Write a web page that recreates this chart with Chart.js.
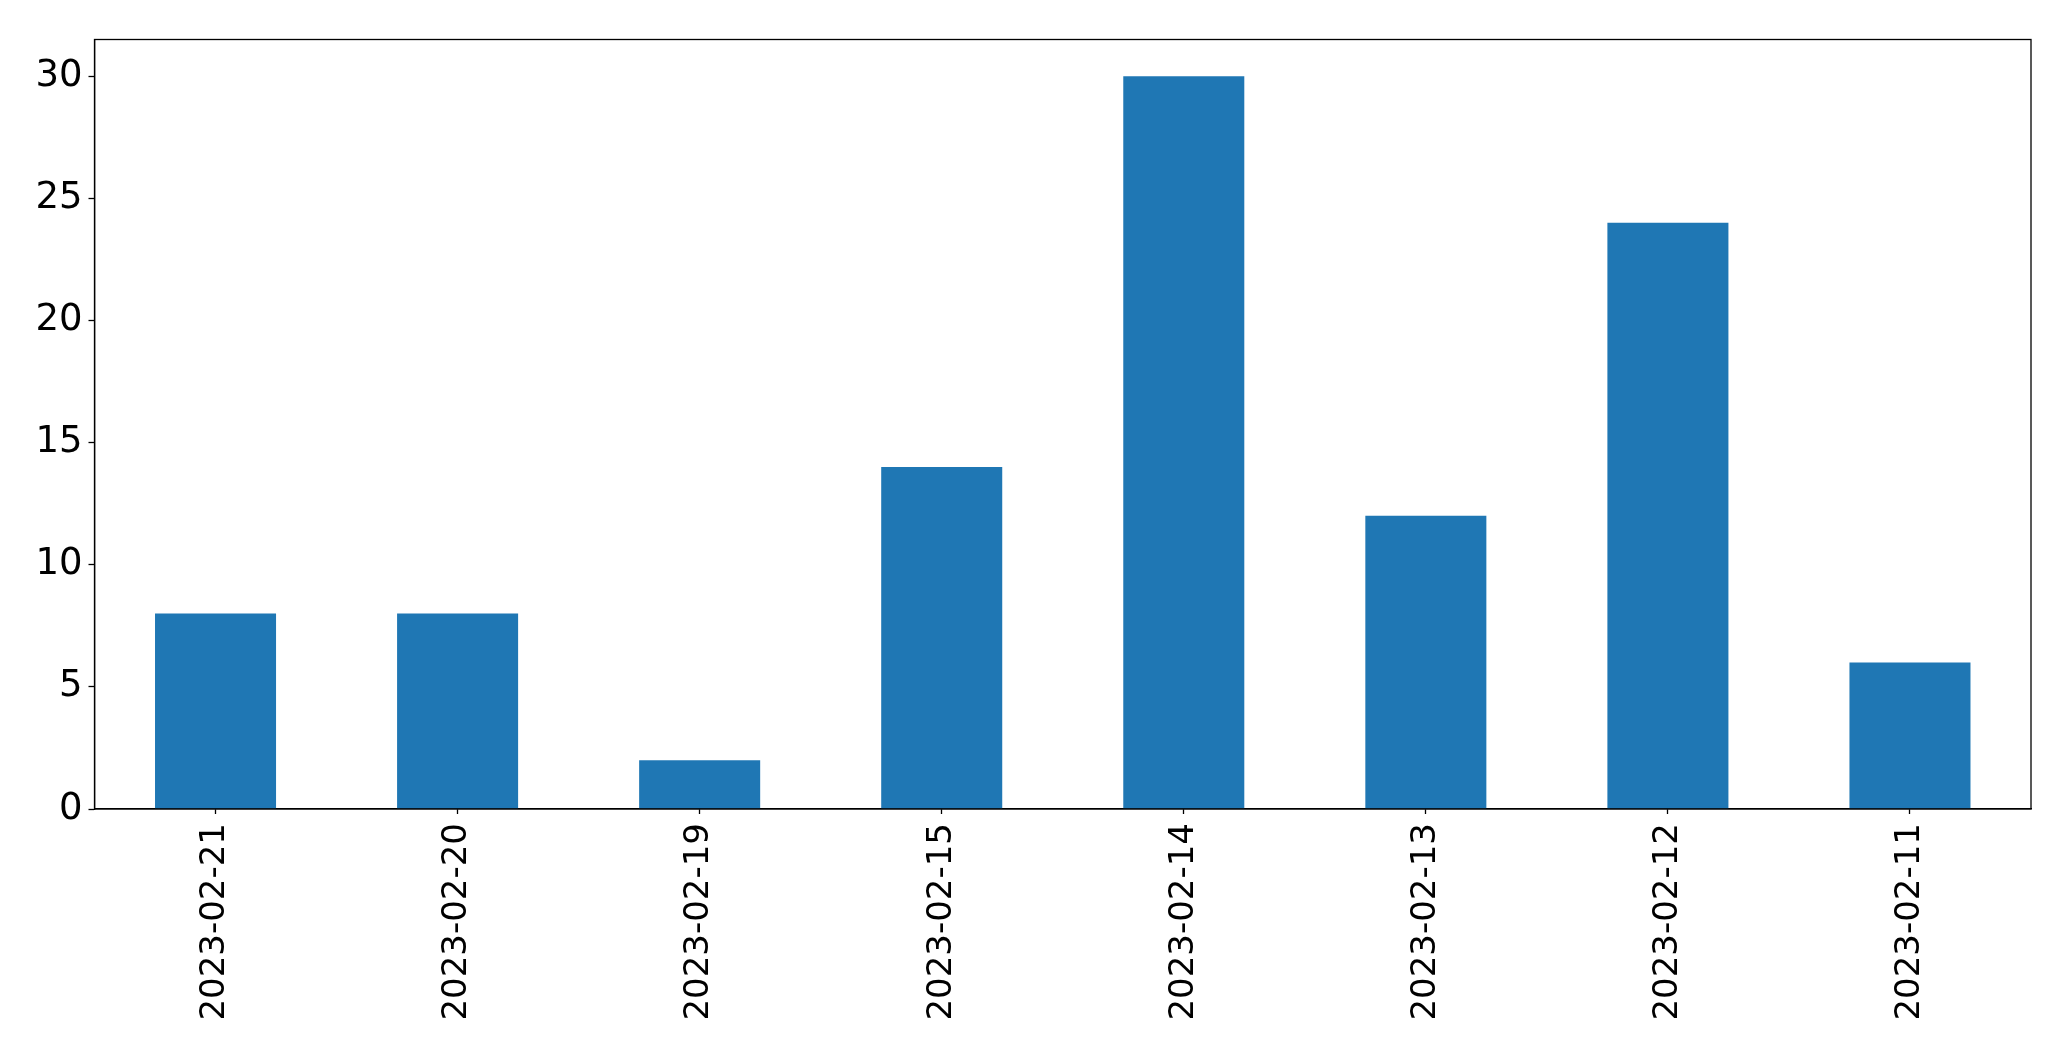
<!DOCTYPE html>
<html>
<head>
<meta charset="utf-8">
<script src="https://cdn.jsdelivr.net/npm/chart.js@4.4.1/dist/chart.umd.min.js"></script>
<style>
html,body{margin:0;padding:0;background:#fff;}
#wrap{width:2071px;height:1061px;position:relative;}
</style>
</head>
<body>
<div id="wrap"><canvas id="c" width="2071" height="1061"></canvas></div>
<script>
const categories = ["2023-02-21","2023-02-20","2023-02-19","2023-02-15","2023-02-14","2023-02-13","2023-02-12","2023-02-11"];
const counts = [8, 8, 2, 14, 30, 12, 24, 6];
const yTicks = [0, 5, 10, 15, 20, 25, 30];

const frame = {
  id: 'frame',
  afterDraw(chart) {
    const a = chart.chartArea, ctx = chart.ctx;
    ctx.save();
    ctx.strokeStyle = '#000';
    ctx.lineWidth = 1.3;
    ctx.strokeRect(a.left, a.top, a.right - a.left, a.bottom - a.top);
    ctx.restore();
  }
};

new Chart(document.getElementById('c'), {
  type: 'bar',
  data: {
    labels: categories,
    datasets: [{
      data: counts,
      backgroundColor: '#1f77b4',
      borderWidth: 0,
      categoryPercentage: 1.0,
      barPercentage: 0.5
    }]
  },
  options: {
    responsive: false,
    animation: false,
    devicePixelRatio: 1,
    layout: { padding: { top: 39.5, right: 40, left: 0, bottom: 0 } },
    plugins: { legend: { display: false }, tooltip: { enabled: false } },
    scales: {
      x: {
        offset: true,
        grid: { display: true, offset: false, drawOnChartArea: false, drawTicks: true, tickLength: 5, color: '#000', tickWidth: 1.3 },
        border: { display: true, color: '#000', width: 1.3 },
        ticks: {
          color: '#000', minRotation: 90, maxRotation: 90, autoSkip: false, padding: 9,
          font: { family: 'DejaVu Sans', size: 34 }
        },
        afterFit(s) { s.height = 252; }
      },
      y: {
        min: 0, max: 31.5,
        afterBuildTicks(s) { s.ticks = yTicks.map(v => ({ value: v })); },
        grid: { display: true, drawOnChartArea: false, drawTicks: true, tickLength: 6, color: '#000', tickWidth: 1.3 },
        border: { display: true, color: '#000', width: 1.3 },
        ticks: {
          color: '#000', padding: 6,
          font: { family: 'DejaVu Sans', size: 37 }
        },
        afterFit(s) { s.width = 94.5; }
      }
    }
  },
  plugins: [frame]
});
</script>
</body>
</html>
